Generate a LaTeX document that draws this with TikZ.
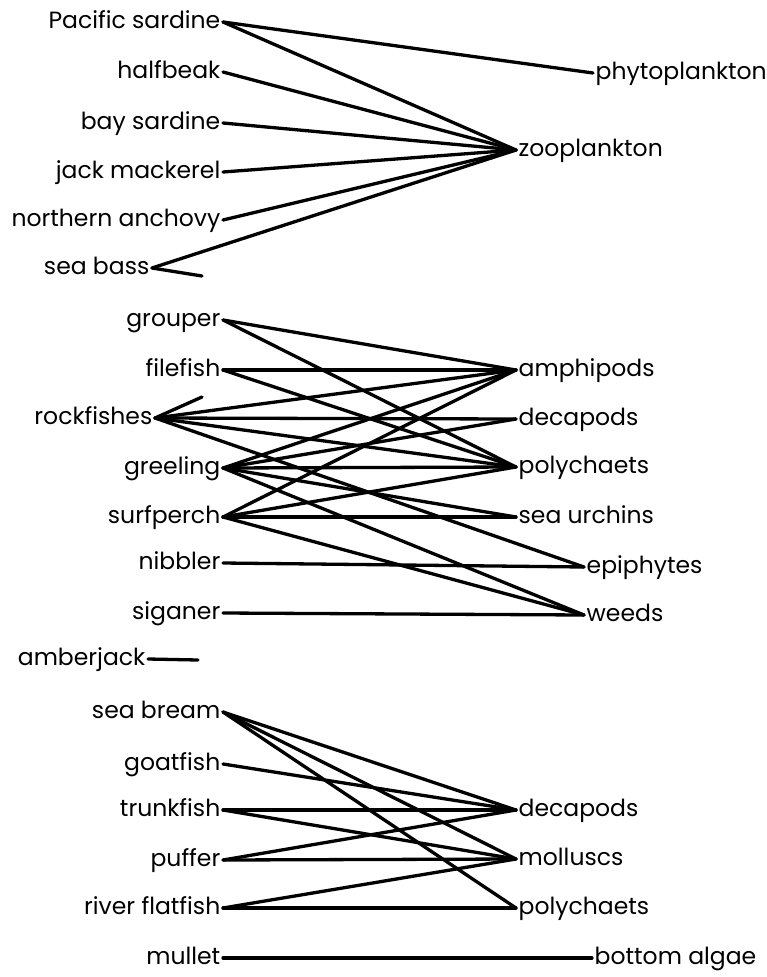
\documentclass[tikz,border=0pt]{standalone}
\usepackage{fontspec}
\setmainfont{Poppins}
\usetikzlibrary{positioning}
\tikzset{
  fish/.style={anchor=east, inner sep=2.5pt, text height=17pt, text depth=4pt,
    font=\fontsize{23.5}{26}\selectfont},
  prey/.style={anchor=west, inner sep=2.5pt, text height=17pt, text depth=4pt,
    font=\fontsize{23.5}{26}\selectfont},
  feed/.style={line width=3.3pt, line cap=round},
}
\begin{document}
\begin{tikzpicture}[x=1pt, y=-1pt]
  \useasboundingbox (0,0) rectangle (766,977);
  % fishes on the left
  \foreach \n/\t/\x/\y in {pacsard/Pacific sardine/223/22, halfbeak/halfbeak/223/72,
      baysard/bay sardine/223/123, jackmack/jack mackerel/223/172,
      anchovy/northern anchovy/223/220, seabass/sea bass/152/268,
      grouper/grouper/223/320, filefish/filefish/223/370, rockfish/rockfishes/155/418,
      greeling/greeling/223/468, surfperch/surfperch/223/517, nibbler/nibbler/223/563,
      siganer/siganer/223/613, amberjack/amberjack/148/659,
      seabream/sea bream/223/712, goatfish/goatfish/223/764, trunkfish/trunkfish/223/810,
      puffer/puffer/223/860, flatfish/river flatfish/223/908, mullet/mullet/223/958} {
    \node[fish] (\n) at (\x,\y) {\t};
  }
  % food on the right
  \foreach \n/\t/\x/\y in {phyto/phytoplankton/593/73, zoo/zooplankton/516/150,
      amphi/amphipods/516/370, deca/decapods/516/419, poly/polychaets/516/467,
      urchin/sea urchins/516/517, epi/epiphytes/584/567, weeds/weeds/584/615,
      decaB/decapods/516/810, mollusc/molluscs/516/859, polyB/polychaets/516/908,
      algae/bottom algae/592/958} {
    \node[prey] (\n) at (\x,\y) {\t};
  }
  \coordinate (bassend) at (202,276);
  \coordinate (rockend) at (202,397);
  \coordinate (amberend) at (198,660);
  \foreach \a/\b in {pacsard/phyto, pacsard/zoo, halfbeak/zoo, baysard/zoo, jackmack/zoo,
      anchovy/zoo, seabass/zoo,
      grouper/amphi, grouper/poly, filefish/amphi, filefish/poly,
      rockfish/amphi, rockfish/deca, rockfish/poly, rockfish/epi,
      greeling/amphi, greeling/deca, greeling/poly, greeling/urchin, greeling/weeds,
      surfperch/amphi, surfperch/poly, surfperch/urchin, surfperch/weeds,
      nibbler/epi, siganer/weeds,
      seabream/decaB, seabream/mollusc, seabream/polyB, goatfish/decaB,
      trunkfish/decaB, trunkfish/mollusc, puffer/decaB, puffer/mollusc,
      flatfish/mollusc, flatfish/polyB, mullet/algae} {
    \draw[feed] (\a.east) -- (\b.west);
  }
  \draw[feed] (seabass.east) -- (bassend);
  \draw[feed] (rockfish.east) -- (rockend);
  \draw[feed] (amberjack.east) -- (amberend);
\end{tikzpicture}
\end{document}
